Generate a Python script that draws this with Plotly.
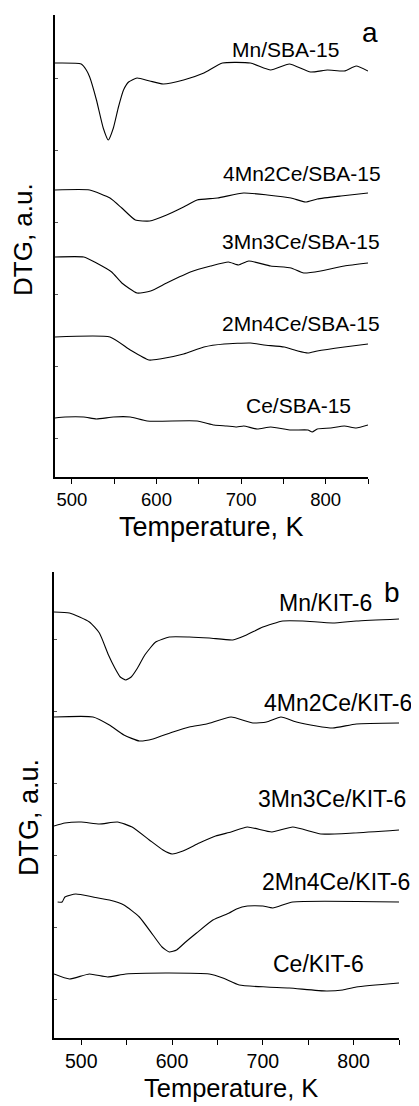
import plotly.graph_objects as go

# ---------------- data (DTG, arbitrary units incl. vertical offset) -------------
# Panel a : SBA-15 supports
T_MN_SBA = [480, 511, 517, 521, 529, 537, 543, 549, 555, 561, 567, 577, 592, 608, 632, 656, 678, 711, 735, 757, 782, 802, 822, 836, 850]
Y_MN_SBA = [414, 413, 407, 400, 377, 349, 337, 349, 370, 387, 395, 399, 396, 393, 397, 404, 414, 414, 407, 413, 405, 407, 406, 411, 406]

T_4MN2CE_SBA = [480, 521, 545, 559, 575, 592, 612, 632, 648, 672, 703, 731, 759, 776, 790, 818, 850]
Y_4MN2CE_SBA = [287, 287, 279, 269, 257, 256, 262, 270, 277, 279, 284, 282, 279, 275, 278, 281, 284]

T_3MN3CE_SBA = [480, 514, 529, 547, 559, 577, 593, 612, 640, 664, 685, 697, 709, 735, 759, 774, 794, 822, 850]
Y_3MN3CE_SBA = [220, 220, 214, 205, 194, 184, 186, 194, 205, 211, 215, 212, 216, 211, 209, 204, 206, 211, 214]

T_2MN4CE_SBA = [480, 545, 569, 591, 604, 632, 656, 680, 711, 727, 751, 767, 779, 790, 822, 850]
Y_2MN4CE_SBA = [140, 140, 127, 117, 118, 123, 130, 133, 134, 132, 130, 126, 124, 126, 130, 133]

T_CE_SBA = [480, 492, 514, 529, 549, 569, 589, 648, 668, 683, 695, 703, 719, 735, 759, 779, 784, 790, 806, 822, 836, 850]
Y_CE_SBA = [59, 60, 60, 58, 60, 60, 56, 56, 52, 51, 50, 51, 48, 50, 47, 47, 45, 48, 49, 51, 49, 52]

# Panel b : KIT-6 supports
T_MN_KIT = [470, 487, 509, 520, 530, 537, 543, 549, 555, 562, 570, 582, 597, 619, 641, 667, 682, 700, 722, 744, 777, 803, 850]
Y_MN_KIT = [426, 425, 416, 405, 383, 370, 361, 358, 361, 370, 383, 396, 401, 401, 400, 398, 403, 411, 417, 417, 415, 417, 419]

T_4MN2CE_KIT = [470, 513, 531, 547, 564, 579, 601, 619, 638, 665, 689, 704, 720, 737, 759, 777, 803, 850]
Y_4MN2CE_KIT = [321, 321, 313, 303, 297, 299, 306, 311, 314, 321, 315, 316, 321, 316, 312, 310, 314, 315]

T_3MN3CE_KIT = [470, 482, 500, 520, 540, 556, 575, 590, 600, 612, 630, 648, 665, 683, 710, 733, 764, 800, 850]
Y_3MN3CE_KIT = [212, 215, 216, 214, 216, 211, 198, 188, 184, 187, 195, 202, 206, 211, 206, 211, 204, 205, 208]

T_2MN4CE_KIT = [474, 479, 482, 494, 513, 531, 547, 564, 579, 589, 597, 605, 615, 627, 645, 663, 671, 683, 700, 711, 733, 850]
Y_2MN4CE_KIT = [136, 136, 141, 144, 141, 138, 133, 121, 103, 91, 86, 88, 96, 105, 118, 125, 129, 132, 132, 130, 136, 136]

T_CE_KIT = [470, 487, 509, 529, 549, 593, 641, 656, 674, 704, 729, 770, 788, 803, 850]
Y_CE_KIT = [64, 59, 64, 61, 64, 65, 64, 60, 53, 51, 50, 47, 48, 51, 55]

LABELS_SBA = ["Mn/SBA-15", "4Mn2Ce/SBA-15", "3Mn3Ce/SBA-15", "2Mn4Ce/SBA-15", "Ce/SBA-15"]
LABELS_KIT = ["Mn/KIT-6", "4Mn2Ce/KIT-6", "3Mn3Ce/KIT-6", "2Mn4Ce/KIT-6", "Ce/KIT-6"]
X_TICKS = [500, 550, 600, 650, 700, 750, 800, 850]
X_TICKTEXT = ["500", "", "600", "", "700", "", "800", ""]

# label anchor positions (data coords)
LAB_POS_SBA = [(753, 427), (772, 303), (771, 235), (771, 153), (768, 71)]
LAB_POS_KIT = [(769, 435), (783, 335), (776, 239), (781, 156), (761, 74)]

# the page body adds an 8 px margin, so the figure is drawn 8 px in from the corner
OFF = 8
W, H = 419 - OFF, 1106 - OFF
FONT = "Arial, Liberation Sans, Helvetica, sans-serif"

fig = go.Figure()

sba = [(T_MN_SBA, Y_MN_SBA), (T_4MN2CE_SBA, Y_4MN2CE_SBA), (T_3MN3CE_SBA, Y_3MN3CE_SBA),
       (T_2MN4CE_SBA, Y_2MN4CE_SBA), (T_CE_SBA, Y_CE_SBA)]
kit = [(T_MN_KIT, Y_MN_KIT), (T_4MN2CE_KIT, Y_4MN2CE_KIT), (T_3MN3CE_KIT, Y_3MN3CE_KIT),
       (T_2MN4CE_KIT, Y_2MN4CE_KIT), (T_CE_KIT, Y_CE_KIT)]

for (t, y), name in zip(sba, LABELS_SBA):
    fig.add_trace(go.Scatter(x=t, y=y, mode="lines", name=name, xaxis="x", yaxis="y",
                             line=dict(color="black", width=1.1, shape="spline", smoothing=0.5),
                             showlegend=False, hoverinfo="skip"))
for (t, y), name in zip(kit, LABELS_KIT):
    fig.add_trace(go.Scatter(x=t, y=y, mode="lines", name=name, xaxis="x2", yaxis="y2",
                             line=dict(color="black", width=1.1, shape="spline", smoothing=0.5),
                             showlegend=False, hoverinfo="skip"))

def px_x(p):
    return (p - OFF) / W

def px_y(p):
    return 1 - (p - OFF) / H

xaxis_common = dict(showline=True, linecolor="black", linewidth=1.5, mirror=False,
                    showgrid=False, zeroline=False, ticks="outside", ticklen=5,
                    tickcolor="black", tickwidth=1, tickvals=X_TICKS, ticktext=X_TICKTEXT)
yaxis_common = dict(showline=True, linecolor="black", linewidth=1.5, mirror=False,
                    showgrid=False, zeroline=False, ticks="inside", ticklen=3,
                    tickcolor="#555", tickwidth=1, showticklabels=False)

fig.update_layout(
    width=W, height=H,
    margin=dict(l=0, r=0, t=0, b=0, autoexpand=False),
    paper_bgcolor="white", plot_bgcolor="white",
    font=dict(family=FONT, color="black"),
    xaxis=dict(**xaxis_common, domain=[px_x(55), px_x(368)], range=[480, 850], anchor="y",
               tickfont=dict(size=18.5, family=FONT, color="black")),
    yaxis=dict(**yaxis_common, domain=[px_y(477), px_y(15)], range=[0, 462], anchor="x",
               tickvals=[39, 111, 183, 255, 327, 399]),
    xaxis2=dict(**xaxis_common, domain=[px_x(54), px_x(399)], range=[470, 850], anchor="y2",
                tickfont=dict(size=19.5, family=FONT, color="black")),
    yaxis2=dict(**yaxis_common, domain=[px_y(1038), px_y(572)], range=[0, 466], anchor="x2",
                tickvals=[39, 111, 183, 255, 327, 399]),
)

ann = []
for (x, y), txt in zip(LAB_POS_SBA, LABELS_SBA):
    ann.append(dict(x=x, y=y, xref="x", yref="y", text=txt, showarrow=False,
                    xanchor="center", yanchor="middle", font=dict(size=21, family=FONT, color="black")))
for (x, y), txt in zip(LAB_POS_KIT, LABELS_KIT):
    ann.append(dict(x=x, y=y, xref="x2", yref="y2", text=txt, showarrow=False,
                    xanchor="center", yanchor="middle", font=dict(size=23, family=FONT, color="black")))

# panel letters
ann.append(dict(x=px_x(369.5), y=px_y(32), xref="paper", yref="paper", text="a", showarrow=False,
                xanchor="center", yanchor="middle", font=dict(size=28, family=FONT, color="black")))
ann.append(dict(x=px_x(392), y=px_y(592), xref="paper", yref="paper", text="b", showarrow=False,
                xanchor="center", yanchor="middle", font=dict(size=28, family=FONT, color="black")))

# axis titles
ann.append(dict(x=px_x(211.5), y=px_y(527), xref="paper", yref="paper", text="Temperature, K",
                showarrow=False, xanchor="center", yanchor="middle", font=dict(size=27, family=FONT, color="black")))
ann.append(dict(x=px_x(231), y=px_y(1088), xref="paper", yref="paper", text="Temperature, K",
                showarrow=False, xanchor="center", yanchor="middle", font=dict(size=25.5, family=FONT, color="black")))
ann.append(dict(x=px_x(23), y=px_y(240), xref="paper", yref="paper", text="DTG, a.u.", textangle=-90,
                showarrow=False, xanchor="center", yanchor="middle", font=dict(size=26, family=FONT, color="black")))
ann.append(dict(x=px_x(29), y=px_y(818), xref="paper", yref="paper", text="DTG, a.u.", textangle=-90,
                showarrow=False, xanchor="center", yanchor="middle", font=dict(size=27, family=FONT, color="black")))

fig.update_layout(annotations=ann)

fig.write_html("out.html")
